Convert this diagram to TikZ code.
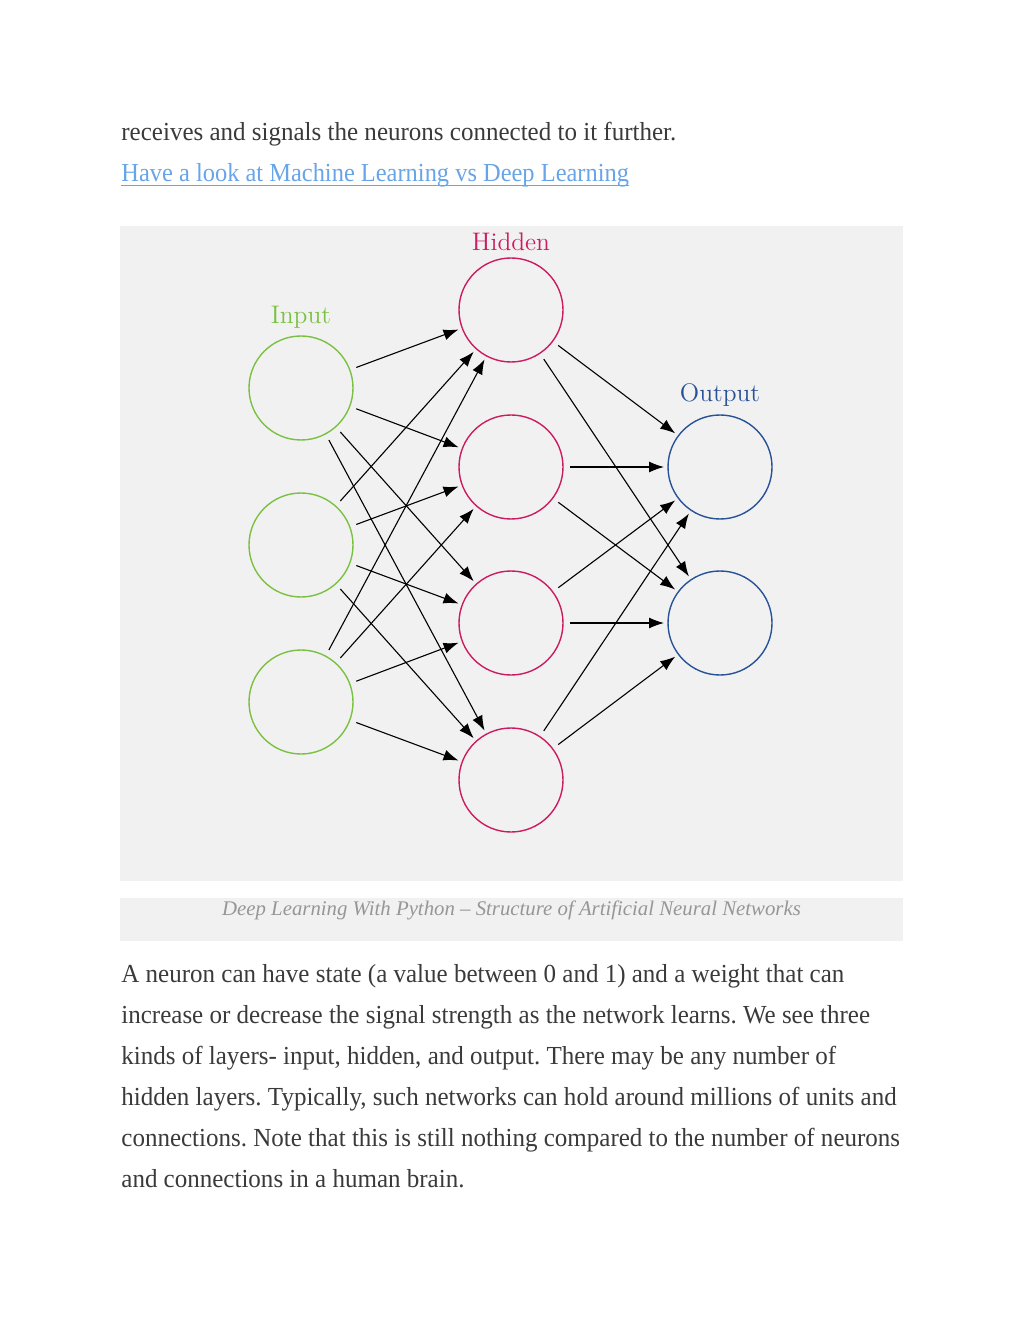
\documentclass[tikz,border=0pt]{standalone}
\usepackage{fontspec}
\usepackage{tikz}
\usepackage{xcolor}
\usetikzlibrary{arrows.meta,positioning}
\newfontfamily\bodyfont{Liberation Serif}[FakeStretch=0.962]
\newfontfamily\linkfont{Liberation Serif}[FakeStretch=0.94]
\newfontfamily\captionfont{Liberation Serif}
\definecolor{bodytext}{RGB}{58,58,58}
\definecolor{linkblue}{RGB}{104,164,232}
\definecolor{panelgray}{RGB}{241,241,241}
\definecolor{captiongray}{RGB}{150,150,150}
\definecolor{ingreen}{RGB}{122,193,66}
\definecolor{hidmagenta}{RGB}{204,27,96}
\definecolor{outblue}{RGB}{40,82,152}
\newcommand{\bodysize}{\fontsize{13}{15}\selectfont}
\newcommand{\layersize}{\fontsize{12.7}{15}\selectfont}

\begin{document}
\frenchspacing
\begin{tikzpicture}[x=0.5pt,y=-0.5pt,>={Latex[length=7.5pt,width=5.5pt]},
  neuron/.style={circle,draw,line width=0.7pt,minimum size=52pt,inner sep=0pt,outer sep=0pt},
  synapse/.style={->,line width=0.55pt,shorten <=3.5pt,shorten >=2pt},
  bodyline/.style={anchor=base west,inner sep=0pt,text=bodytext,font=\bodyfont\bodysize},
  layername/.style={anchor=base,inner sep=0pt,font=\layersize}]
\useasboundingbox(0,0)rectangle(1024,1325);
% text above the figure
\node[bodyline](intro)at(121,141){receives and signals the neurons connected to it further.};
\node[bodyline,text=linkblue,font=\linkfont\bodysize](seealso)at(121,182){Have a look at Machine Learning vs Deep Learning};
\draw[linkblue,line width=0.6pt]([yshift=-1.6pt]seealso.base west)--([yshift=-1.6pt]seealso.base east);
% figure panel and caption bar
\fill[panelgray](120,226)rectangle(903,881);
\fill[panelgray](120,898)rectangle(903,941);
\node[anchor=base,inner sep=0pt,text=captiongray,font=\captionfont\itshape\fontsize{10.4}{12}\selectfont](caption)at(511.5,915){Deep Learning With Python – Structure of Artificial Neural Networks};
% neurons
\node[neuron,draw=ingreen](i1)at(301,388){};
\node[neuron,draw=ingreen](i2)at(301,545){};
\node[neuron,draw=ingreen](i3)at(301,702){};
\node[neuron,draw=hidmagenta](h1)at(511,310){};
\node[neuron,draw=hidmagenta](h2)at(511,467){};
\node[neuron,draw=hidmagenta](h3)at(511,623){};
\node[neuron,draw=hidmagenta](h4)at(511,780){};
\node[neuron,draw=outblue](o1)at(720,467){};
\node[neuron,draw=outblue](o2)at(720,623){};
\node[layername,text=ingreen](inlbl)at(301,324){Input};
\node[layername,text=hidmagenta](hidlbl)at(511,251){Hidden};
\node[layername,text=outblue](outlbl)at(720,402){Output};
% connections
\path[synapse](i1)edge(h1)edge(h2)edge(h3)edge(h4);
\path[synapse](i2)edge(h1)edge(h2)edge(h3)edge(h4);
\path[synapse](i3)edge(h1)edge(h2)edge(h3)edge(h4);
\path[synapse](h1)edge(o1)edge(o2);
\path[synapse](h2)edge(o1)edge(o2);
\path[synapse](h3)edge(o1)edge(o2);
\path[synapse](h4)edge(o1)edge(o2);
% text below the figure
\node[bodyline](par1)at(121,982){A neuron can have state (a value between 0 and 1) and a weight that can};
\node[bodyline](par2)at(121,1023){increase or decrease the signal strength as the network learns. We see three};
\node[bodyline](par3)at(121,1064){kinds of layers- input, hidden, and output. There may be any number of};
\node[bodyline](par4)at(121,1105){hidden layers. Typically, such networks can hold around millions of units and};
\node[bodyline](par5)at(121,1146){connections. Note that this is still nothing compared to the number of neurons};
\node[bodyline](par6)at(121,1187){and connections in a human brain.};
\end{tikzpicture}
\end{document}
